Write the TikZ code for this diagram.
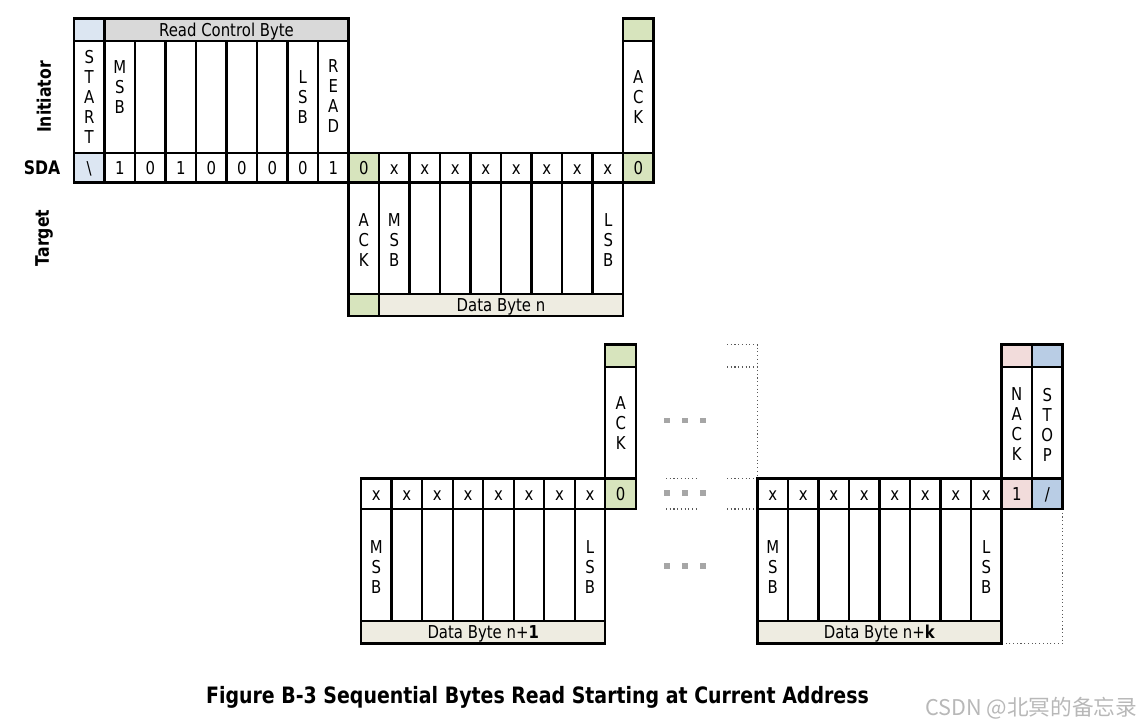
\documentclass[tikz,border=0pt]{standalone}
\usepackage{fontspec}
\usepackage{graphicx}
\setmainfont{DejaVu Sans}[FakeStretch=0.84]
\newfontfamily\cjkfont{Noto Sans CJK SC}
\usetikzlibrary{fit}
\definecolor{startblue}{HTML}{DCE6F2}
\definecolor{stopblue}{HTML}{B9CDE5}
\definecolor{ackgreen}{HTML}{D7E4BD}
\definecolor{nackpink}{HTML}{F2DCDB}
\definecolor{hdrgray}{HTML}{D9D9D9}
\definecolor{beige}{HTML}{EEECE1}
\definecolor{dotgray}{HTML}{A6A6A6}
\tikzset{
  cellbox/.style={draw, line width=1.6pt, inner sep=0pt},
  celltxt/.style={inner sep=0pt, anchor=base, font=\fontsize{13.3}{15}\selectfont},
  vlab/.style={align=center, inner sep=0pt, font=\fontsize{13.3}{15}\selectfont},
  sidelab/.style={inner sep=0pt, font=\bfseries\fontsize{14}{16}\selectfont},
  dotln/.style={dotted, line width=0.8pt, black!65},
  dotsq/.style={fill=dotgray, inner sep=0pt, minimum size=4.2pt},
}
\newcommand\mkcell[7]{\node[cellbox, fill=#6, fit={(#2,#3) (#4,#5)}] (#1) {};
  \node[celltxt] (#1t) at ([yshift=-4.8pt]#1.center) {#7};}
\begin{document}
\begin{tikzpicture}[x=0.75pt, y=-0.75pt]
\useasboundingbox (0,0) rectangle (1142,728);
% ---------- side labels
\node[sidelab, rotate=90] (lini) at (44,97) {Initiator};
\node[sidelab] (lsda) at (42,168) {SDA};
\node[sidelab, rotate=90] (ltgt) at (44,238) {Target};
% ---------- top: START
\mkcell{sth}{74}{18.5}{104.5}{41}{startblue}{}
\mkcell{stl}{74}{41}{104.5}{153}{white}{}
\mkcell{sts}{74}{153}{104.5}{182.5}{startblue}{\textbackslash}
\node[vlab] (tstart) at (89.25,97) {S\\T\\A\\R\\T};
% ---------- top: control byte
\mkcell{rch}{104.5}{18.5}{348.5}{41}{hdrgray}{Read Control Byte}
\foreach \i/\v [evaluate=\i as \xa using 104.5+30.5*(\i-1), evaluate=\i as \xb using 104.5+30.5*\i] in {1/1,2/0,3/1,4/0,5/0,6/0,7/0,8/1}{
  \mkcell{rl\i}{\xa}{41}{\xb}{153}{white}{}
  \mkcell{rs\i}{\xa}{153}{\xb}{182.5}{white}{\v}
}
\node[vlab] (tmsb1) at (119.75,87) {M\\S\\B};
\node[vlab] (tlsb1) at (302.75,97.5) {L\\S\\B};
\node[vlab] (tread) at (333.25,96) {R\\E\\A\\D};
% ---------- top: data byte n
\mkcell{a1s}{348.5}{153}{379}{182.5}{ackgreen}{0}
\mkcell{a1l}{348.5}{182.5}{379}{294}{white}{}
\mkcell{a1b}{348.5}{294}{379}{316}{ackgreen}{}
\node[vlab] (tack1) at (363.75,240) {A\\C\\K};
\foreach \i [evaluate=\i as \xa using 379+30.5*(\i-1), evaluate=\i as \xb using 379+30.5*\i] in {1,...,8}{
  \mkcell{ds\i}{\xa}{153}{\xb}{182.5}{white}{x}
  \mkcell{dl\i}{\xa}{182.5}{\xb}{294}{white}{}
}
\mkcell{dbn}{379}{294}{623}{316}{beige}{Data Byte n}
\node[vlab] (tmsb2) at (394.25,240) {M\\S\\B};
\node[vlab] (tlsb2) at (608.25,240) {L\\S\\B};
\mkcell{a2h}{623}{18.5}{653.5}{41}{ackgreen}{}
\mkcell{a2l}{623}{41}{653.5}{153}{white}{}
\mkcell{a2s}{623}{153}{653.5}{182.5}{ackgreen}{0}
\node[vlab] (tack2) at (638.25,97) {A\\C\\K};
% ---------- bottom left: data byte n+1
\foreach \i [evaluate=\i as \xa using 361+30.55*(\i-1), evaluate=\i as \xb using 361+30.55*\i] in {1,...,8}{
  \mkcell{es\i}{\xa}{478.5}{\xb}{509}{white}{x}
  \mkcell{el\i}{\xa}{509}{\xb}{621}{white}{}
}
\mkcell{dbn1}{361}{621}{605.4}{643.5}{beige}{Data Byte n+\textbf{1}}
\node[vlab] (tmsb3) at (376.3,567) {M\\S\\B};
\node[vlab] (tlsb3) at (590.1,567) {L\\S\\B};
\mkcell{a3h}{605.4}{344.5}{636}{367}{ackgreen}{}
\mkcell{a3l}{605.4}{367}{636}{478.5}{white}{}
\mkcell{a3s}{605.4}{478.5}{636}{509}{ackgreen}{0}
\node[vlab] (tack3) at (620.7,423) {A\\C\\K};
% ---------- ellipsis dots
\foreach \yy/\r in {420.5/a,493/b,566/c}{
  \node[dotsq] (q1\r) at (666.7,\yy) {};
  \node[dotsq] (q2\r) at (685,\yy) {};
  \node[dotsq] (q3\r) at (703,\yy) {};
}
\draw[dotln] (666,478.5) -- (697,478.5);
\draw[dotln] (666,509) -- (697,509);
\draw[dotln] (727,344.5) -- (757.5,344.5) -- (757.5,478.5);
\draw[dotln] (727,367) -- (757.5,367);
\draw[dotln] (727,478.5) -- (757.5,478.5);
\draw[dotln] (727,509) -- (757.5,509);
% ---------- bottom right: data byte n+k
\draw[dotln] (1062.5,509) -- (1062.5,643.5) -- (1001.5,643.5);
\foreach \i [evaluate=\i as \xa using 757.5+30.5*(\i-1), evaluate=\i as \xb using 757.5+30.5*\i] in {1,...,8}{
  \mkcell{fs\i}{\xa}{478.5}{\xb}{509}{white}{x}
  \mkcell{fl\i}{\xa}{509}{\xb}{621}{white}{}
}
\mkcell{dbnk}{757.5}{621}{1001.5}{643.5}{beige}{Data Byte n+\textbf{k}}
\node[vlab] (tmsb4) at (772.75,567) {M\\S\\B};
\node[vlab] (tlsb4) at (986.25,567) {L\\S\\B};
\mkcell{nkh}{1001.5}{344.5}{1032}{367}{nackpink}{}
\mkcell{nkl}{1001.5}{367}{1032}{478.5}{white}{}
\mkcell{nks}{1001.5}{478.5}{1032}{509}{nackpink}{1}
\node[vlab] (tnack) at (1016.75,424.5) {N\\A\\C\\K};
\mkcell{sph}{1032}{344.5}{1062.5}{367}{stopblue}{}
\mkcell{spl}{1032}{367}{1062.5}{478.5}{white}{}
\mkcell{sps}{1032}{478.5}{1062.5}{509}{stopblue}{/}
\node[vlab] (tstop) at (1047.25,424.5) {S\\T\\O\\P};
% ---------- caption and watermark
\node[inner sep=0pt] (cap) at (537.5,697) {\resizebox{497pt}{!}{\bfseries Figure B-3 Sequential Bytes Read Starting at Current Address}};
\node[inner sep=0pt, text=black!28] (wm) at (1031,708) {\resizebox{159pt}{!}{\cjkfont CSDN @北冥的备忘录}};
\end{tikzpicture}
\end{document}
